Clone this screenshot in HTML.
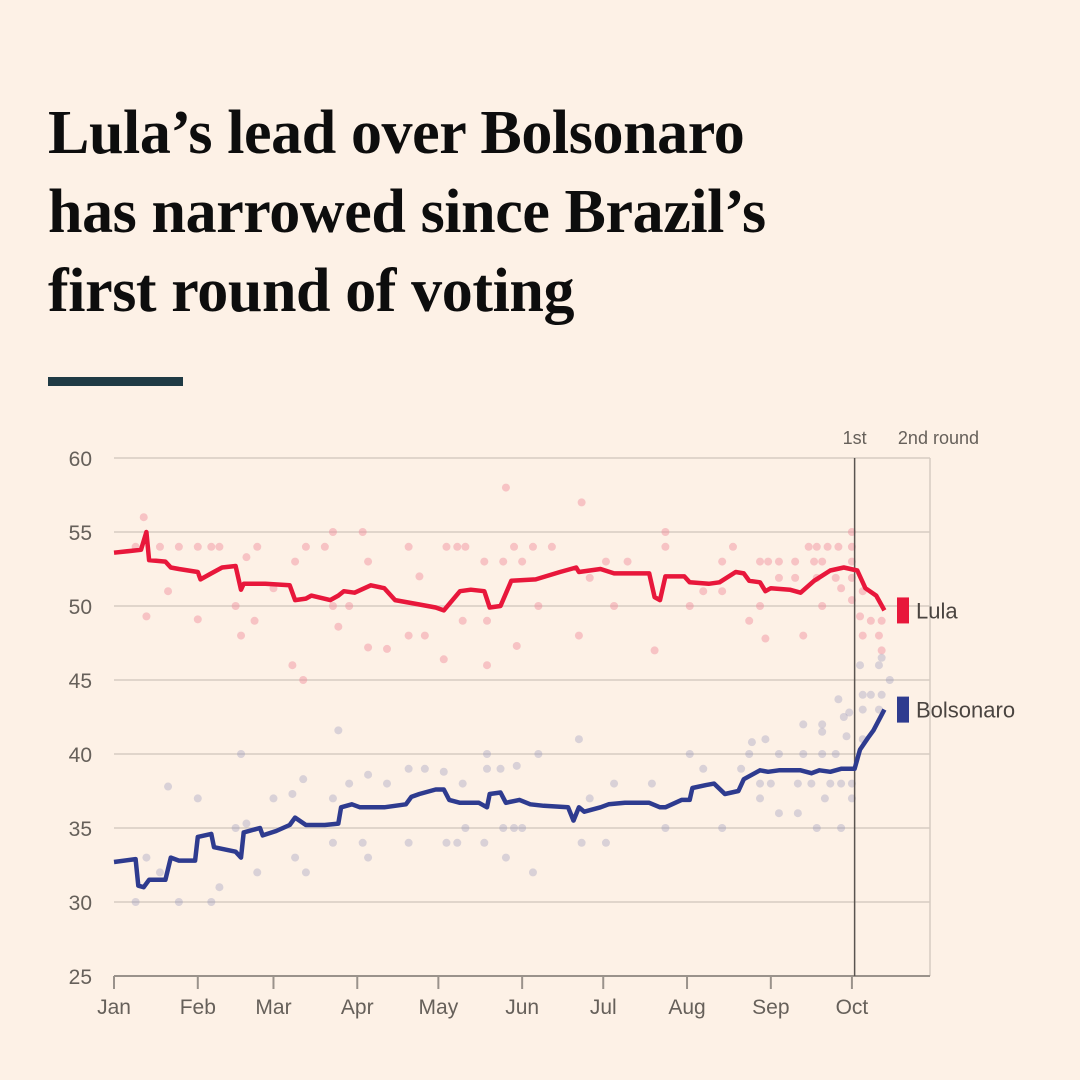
<!DOCTYPE html>
<html><head><meta charset="utf-8">
<style>
html,body{margin:0;padding:0;background:#fdf1e6;}
#wrap{position:relative;width:1080px;height:1080px;background:#fdf1e6;overflow:hidden;}
h1{position:absolute;left:48px;top:94px;margin:0;font-family:"Liberation Serif",serif;font-weight:bold;font-size:62px;line-height:79px;color:#0d0d0d;letter-spacing:-0.4px;white-space:nowrap;}
#rule{position:absolute;left:48px;top:377px;width:135px;height:9px;background:#1f3a44;}
svg{position:absolute;left:0;top:0;}
svg text{font-family:"Liberation Sans",sans-serif;fill:#66605a;}
</style></head>
<body>
<div id="wrap">
<h1>Lula’s lead over Bolsonaro<br>has narrowed since Brazil’s<br>first round of voting</h1>
<div id="rule"></div>
<svg id="chart" width="1080" height="1080"></svg>
</div>
<script>
const yTicks=[25,30,35,40,45,50,55,60];
const monthLabels=["Jan","Feb","Mar","Apr","May","Jun","Jul","Aug","Sep","Oct"];
const monthDays=[0,31,59,90,120,151,181,212,243,273];
const roundDay=274;
const lulaDays=[0,10,12,13,19,21,24,31,32,36,40,45,47,48,56,65,67,71,73,80,83,85,89,95,100,104,113,119,122,128,132,137,139,143,147,156,165,171,172,180,185,198,200,202,204,211,213,220,224,230,233,235,239,241,243,250,254,259,265,270,275,278,282,285];
const lulaVals=[53.6,53.8,55,53.1,53.0,52.6,52.5,52.3,51.8,52.2,52.6,52.7,51.1,51.5,51.5,51.4,50.4,50.5,50.7,50.4,50.7,51,50.9,51.4,51.2,50.4,50.1,49.9,49.7,51.0,51.1,51.0,49.9,50,51.7,51.8,52.3,52.6,52.3,52.5,52.2,52.2,50.6,50.4,52,52,51.6,51.5,51.6,52.3,52.2,51.7,51.6,51,51.2,51.1,50.9,51.7,52.4,52.6,52.4,51.2,50.7,49.7];
const bolsoDays=[0,8,9,11,13,19,21,24,30,31,36,37,45,47,48,54,55,60,65,67,71,78,83,84,88,91,100,108,110,113,119,122,124,128,135,138,139,143,145,150,154,159,168,170,172,174,180,183,189,198,202,204,210,213,214,219,222,226,231,233,239,242,246,254,258,261,265,269,272,274,276,279,281,285];
const bolsoVals=[32.7,32.9,31.1,31.0,31.5,31.5,33.0,32.8,32.8,34.4,34.6,33.7,33.4,33.0,34.7,35.0,34.5,34.8,35.2,35.7,35.2,35.2,35.3,36.4,36.6,36.4,36.4,36.6,37.1,37.3,37.6,37.6,36.9,36.7,36.7,36.4,37.3,37.4,36.7,36.9,36.6,36.5,36.4,35.5,36.4,36.1,36.4,36.6,36.7,36.7,36.4,36.4,36.9,36.9,37.7,37.9,38.0,37.3,37.5,38.3,38.9,38.8,38.9,38.9,38.7,38.9,38.8,39.0,39.0,39.0,40.3,41.1,41.6,43.0];
const lulaPollDays=[11,8,17,24,31,36,39,53,49,20,12,31,45,47,52,59,67,71,78,81,92,94,81,87,83,66,70,94,101,109,113,109,115,123,127,130,137,144,151,129,138,122,138,149,145,148,155,157,173,204,204,162,229,257,260,264,268,273,273,239,242,246,252,259,262,273,225,182,190,176,246,252,260,267,273,218,225,269,277,185,213,239,262,273,276,280,284,235,172,255,277,283,241,200,284];
const lulaPollVals=[56,54,54,54,54,54,54,54,53.3,51,49.3,49.1,50,48,49,51.2,53,54,54,55,55,53,50,50,48.6,46,45,47.2,47.1,54,52,48,48,54,54,54,53,53,53,49,49,46.4,46,47.3,58,54,54,50,57,55,54,54,54,54,54,54,54,55,54,53,53,53,53,53,53,53,53,53,53,51.9,51.9,51.9,51.9,51.9,51.9,51,51,51.2,51,50,50,50,50,50.4,49.3,49,49,49,48,48,48,48,47.8,47,47];
const bolsoPollDays=[83,47,138,157,109,115,122,138,143,149,94,87,101,129,20,31,59,81,66,70,49,45,130,144,148,151,81,92,109,123,127,137,12,67,94,145,17,53,71,155,39,8,24,36,172,213,235,246,255,262,267,236,241,255,262,262,218,232,185,199,239,243,253,258,265,269,273,176,239,263,273,246,253,204,225,260,269,173,182,276,283,284,287,268,277,280,284,277,283,272,270,271,277];
const bolsoPollVals=[41.6,40,40,40,39,39,38.8,39,39,39.2,38.6,38,38,38,37.8,37,37,37,37.3,38.3,35.3,35,35,35,35,35,34,34,34,34,34,34,33,33,33,33,32,32,32,32,31,30,30,30,41,40,40,40,40,40,40,40.8,41,42,42,41.5,39,39,38,38,38,38,38,38,38,38,38,37,37,37,37,36,36,35,35,35,35,34,34,46,46,46.5,45,43.7,44,44,44,43,43,42.8,42.5,41.2,41];

const NS="http://www.w3.org/2000/svg";
const svg=document.getElementById('chart');
const X0=114,PX_DAY=2.703,Y60=458,PX_UNIT=14.8;
function xs(d){return X0+d*PX_DAY;}
function ys(v){return Y60+(60-v)*PX_UNIT;}
function mk(tag,attrs,parent){const e=document.createElementNS(NS,tag);for(const k in attrs)e.setAttribute(k,attrs[k]);(parent||svg).appendChild(e);return e;}
const right=930;
yTicks.forEach(v=>{
  if(v>25){const g=mk('line',{x1:X0,x2:right,y1:ys(v),y2:ys(v),stroke:'#d6ccc2','stroke-width':1.5});
  
  }
  const t=mk('text',{x:92,y:ys(v)+8,'text-anchor':'end','font-size':21});
  t.textContent=v;
  
  
});
const fr=mk('line',{x1:right,x2:right,y1:ys(60),y2:ys(25),stroke:'#d6ccc2','stroke-width':1.5});


const ax=mk('line',{x1:X0,x2:right,y1:ys(25),y2:ys(25),stroke:'#9a928b','stroke-width':2});


monthDays.forEach((d,i)=>{
  const tk=mk('line',{x1:xs(d),x2:xs(d),y1:ys(25),y2:ys(25)+13,stroke:'#9a928b','stroke-width':2});
  
  
  const t=mk('text',{x:xs(d),y:1014,'text-anchor':'middle','font-size':21});
  t.textContent=monthLabels[i];
  
  
});
function dots(days,vals,color,name){
  const g=mk('g',{});
  
  
  days.forEach((d,i)=>{const c=mk('circle',{cx:xs(d),cy:ys(vals[i]),r:4,fill:color},g);
  
  });
}
dots(lulaPollDays,lulaPollVals,'rgba(240,140,155,0.45)','lula-polls');
dots(bolsoPollDays,bolsoPollVals,'rgba(150,150,185,0.35)','bolsonaro-polls');
const rl=mk('line',{x1:xs(roundDay),x2:xs(roundDay),y1:ys(60),y2:ys(25),stroke:'#5a5450','stroke-width':1.5});


const r1=mk('text',{x:xs(roundDay),y:444,'text-anchor':'middle','font-size':18});
r1.textContent='1st';


const r2=mk('text',{x:979,y:444,'text-anchor':'end','font-size':18});
r2.textContent='2nd round';


function line(days,vals,color,name){
  const p=mk('polyline',{points:days.map((d,i)=>xs(d).toFixed(1)+','+ys(vals[i]).toFixed(1)).join(' '),fill:'none',stroke:color,'stroke-width':4.5,'stroke-linejoin':'round'});
  
  
}
line(lulaDays,lulaVals,'#e8173b','lula-line');
line(bolsoDays,bolsoVals,'#2e3b8f','bolsonaro-line');
function legend(v,color,label,name){
  const r=mk('rect',{x:897,y:ys(v)-13,width:12,height:26,fill:color});
  
  
  const t=mk('text',{x:916,y:ys(v)+8,'font-size':22,style:'fill:#4a4440'});
  t.textContent=label;
  
  
}
legend(lulaVals[lulaVals.length-1],'#e8173b','Lula','legend-lula');
legend(bolsoVals[bolsoVals.length-1],'#2e3b8f','Bolsonaro','legend-bolsonaro');
</script>
</body></html>
